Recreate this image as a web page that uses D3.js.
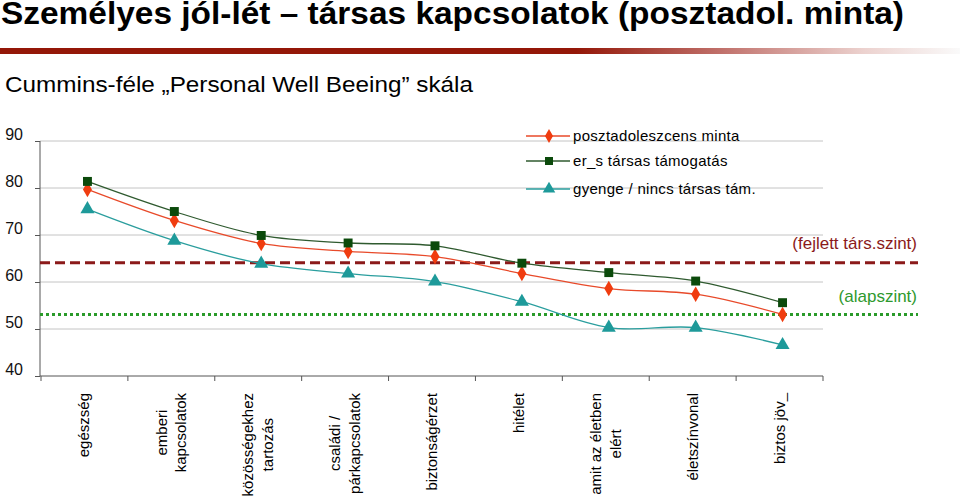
<!DOCTYPE html>
<html><head><meta charset="utf-8">
<script src="https://cdn.jsdelivr.net/npm/d3@7"></script>
<style>body{margin:0;background:#fff}svg{display:block}</style>
</head><body>
<svg id="c" width="960" height="496"></svg>
<script>
const categories = [
  ["egészség"],
  ["emberi","kapcsolatok"],
  ["közösségekhez","tartozás"],
  ["családi /","párkapcsolatok"],
  ["biztonságérzet"],
  ["hitélet"],
  ["amit az életben","elért"],
  ["életszínvonal"],
  ["biztos jöv_"]
];
const seriesNames = ["posztadoleszcens minta","er_s társas támogatás","gyenge / nincs társas tám."];
const posztadol = [79.7, 73.1, 68.2, 66.5, 65.4, 61.8, 58.6, 57.4, 53.1];
const erosTamogatas = [81.4, 75.0, 69.9, 68.3, 67.7, 64.0, 62.0, 60.2, 55.6];
const gyengeTamogatas = [75.5, 68.8, 63.9, 61.8, 60.1, 55.8, 50.3, 50.3, 46.6];
const yTicks = [40, 50, 60, 70, 80, 90];
const refLevels = [64.1, 53.1];
const refLabels = ["(fejlett társ.szint)", "(alapszint)"];
const titleText = "Személyes jól-lét – társas kapcsolatok (posztadol. minta)";
const subtitleText = "Cummins-féle „Personal Well Beeing” skála";

const svg = d3.select("#c");
const defs = svg.append("defs");
const grad = defs.append("linearGradient").attr("id","bar").attr("x1","0").attr("x2","1");
grad.append("stop").attr("offset","0").attr("stop-color","#941708");
grad.append("stop").attr("offset","0.6").attr("stop-color","#941708");
grad.append("stop").attr("offset","0.75").attr("stop-color","#c0706a");
grad.append("stop").attr("offset","0.9").attr("stop-color","#ecd2cf");
grad.append("stop").attr("offset","1").attr("stop-color","#fafafa");
svg.append("rect").attr("x",0).attr("y",48).attr("width",960).attr("height",6).attr("fill","url(#bar)");

const font = "'Liberation Sans',Arial,sans-serif";
svg.append("text").attr("x",1).attr("y",24).text(titleText)
  .attr("font-family",font).attr("font-weight","bold").attr("font-size",31)
  .attr("textLength",903).attr("lengthAdjust","spacingAndGlyphs").attr("fill","#000");
svg.append("text").attr("x",5).attr("y",92).text(subtitleText)
  .attr("font-family",font).attr("font-size",22.5)
  .attr("textLength",468).attr("lengthAdjust","spacingAndGlyphs").attr("fill","#000");

const x = d3.scaleBand().domain(d3.range(categories.length)).range([41, 823]).padding(0);
const y = d3.scaleLinear().domain([40, 90]).range([376, 141]);

// gridlines
svg.append("g").selectAll("line").data(yTicks.filter(t => t > 40)).join("line")
  .attr("x1",40).attr("x2",823).attr("y1",d=>y(d)).attr("y2",d=>y(d))
  .attr("stroke","#c4c4c4").attr("stroke-width",1);

// y axis
const yAxis = svg.append("g").attr("transform","translate(40,0)")
  .call(d3.axisLeft(y).tickValues(yTicks).tickSize(5).tickPadding(12));
yAxis.select(".domain").attr("stroke","#555").attr("d","M0,"+y(90)+"V"+y(40));
yAxis.selectAll(".tick line").attr("stroke","#555");
yAxis.selectAll("text").attr("font-family",font).attr("font-size",16).attr("fill","#111").attr("dy","-0.1em");

// x axis
const xAxis = svg.append("g").attr("transform","translate(0,"+y(40)+")");
xAxis.append("line").attr("x1",40).attr("x2",823).attr("stroke","#555");
const bounds = d3.range(categories.length + 1).map(i => i < categories.length ? x(i) : x(categories.length-1) + x.bandwidth());
xAxis.selectAll(".tk").data(bounds).join("line").attr("class","tk")
  .attr("x1",d=>d).attr("x2",d=>d).attr("y1",0).attr("y2",5).attr("stroke","#555");

categories.forEach((lines, i) => {
  const cx = x(i) + x.bandwidth()/2;
  const lh = 19.5;
  const g = svg.append("g");
  const texts = lines.map((t, j) => g.append("text").text(t)
    .attr("font-family",font).attr("font-size",15).attr("fill","#000")
    .attr("text-anchor","middle"));
  const maxLen = d3.max(texts, t => t.node().getComputedTextLength());
  const cy = 393 + maxLen/2;
  texts.forEach((t, j) => {
    const off = (j - (lines.length-1)/2) * lh;
    const px = cx + off + 5;
    t.attr("transform","translate("+px+","+cy+") rotate(-90)");
  });
});

// reference lines
const refStyles = [
  {color:"#8b1a1a", dash:"10,5", labelColor:"#8b1a1a", off:14},
  {color:"#2a9a2a", dash:"3,3", labelColor:"#2e992e", off:12}
];
refLevels.forEach((v, i) => {
  svg.append("line").attr("x1",40).attr("x2",918).attr("y1",y(v)).attr("y2",y(v))
    .attr("stroke",refStyles[i].color).attr("stroke-width",3).attr("stroke-dasharray",refStyles[i].dash);
  svg.append("text").attr("x",917).attr("y",y(v) - refStyles[i].off).attr("text-anchor","end")
    .attr("font-family",font).attr("font-size",17).attr("fill",refStyles[i].labelColor).text(refLabels[i]);
});

// series
const seriesData = [posztadol, erosTamogatas, gyengeTamogatas];
const styles = [
  {line:"#e84a2a", fill:"#f03c0f", shape:d3.symbolDiamond, size:70},
  {line:"#2f5a2f", fill:"#0b4a0b", shape:d3.symbolSquare, size:80},
  {line:"#2a9e9e", fill:"#1e9a9a", shape:d3.symbolTriangle, size:85}
];
const lineGen = d3.line().x((d,i)=>x(i)+x.bandwidth()/2+3).y(d=>y(d)).curve(d3.curveCatmullRom.alpha(0.5));
seriesData.forEach((vals, s) => {
  svg.append("path").attr("d", lineGen(vals)).attr("fill","none")
    .attr("stroke",styles[s].line).attr("stroke-width",1.3);
});
seriesData.forEach((vals, s) => {
  svg.append("g").selectAll("path").data(vals).join("path")
    .attr("d", d3.symbol(styles[s].shape, styles[s].size)())
    .attr("transform",(d,i)=>"translate("+(x(i)+x.bandwidth()/2+3)+","+y(d)+")")
    .attr("fill",styles[s].fill);
});

// legend
const legY = [136, 161, 189];
seriesNames.forEach((n, s) => {
  const g = svg.append("g").attr("transform","translate(526,"+legY[s]+")");
  g.append("line").attr("x1",0).attr("x2",44).attr("stroke",styles[s].line).attr("stroke-width",1.3);
  g.append("path").attr("d", d3.symbol(styles[s].shape, styles[s].size*0.8)()).attr("transform","translate(23,0)").attr("fill",styles[s].fill);
  g.append("text").attr("x",47).attr("y",5).attr("font-family",font).attr("font-size",15)
    .attr("letter-spacing",0.3).attr("fill","#000").text(n);
});
</script>
</body></html>
